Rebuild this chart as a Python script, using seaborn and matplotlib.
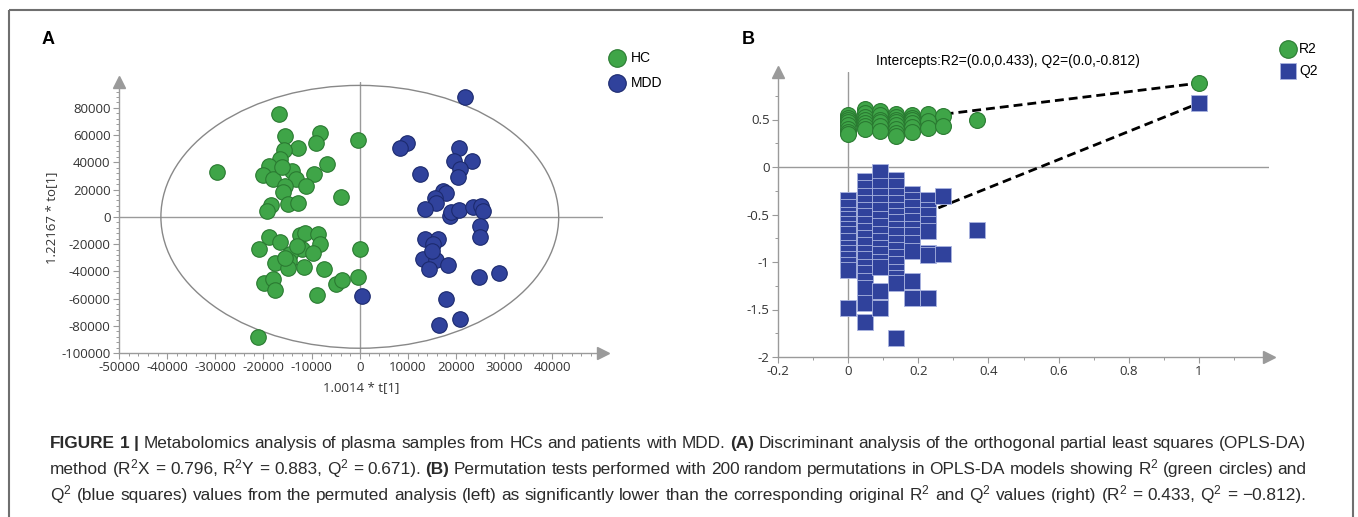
import matplotlib
matplotlib.use("Agg")
import numpy as np
import pandas as pd
import matplotlib.pyplot as plt
import seaborn as sns
from matplotlib.ticker import MultipleLocator, FixedLocator, FuncFormatter
from matplotlib.patches import Ellipse, Rectangle

# ---------------- data: panel A (OPLS-DA scores) ----------------
hc_t = [-16800, -8300, -9100, -15600, -12900, -15800, -300, -16600, -18900, -6800,
        -14000, -20200, -18100, -9500, -29700, -13300, -15600, -11200, -16000, -3900,
        -18500, -19200, -14900, -12900, -16200,
        -18900, -16500, -21000, -12400, -11300, -8700, -8200, -12100, -9800, -14500,
        -17600, -14800, -15000, -11600, -7500, -19800, -18000, -17600, -8800, -5000,
        -3600, 100, -300, -21200, -15600, -13100]
hc_to = [75500, 61500, 54200, 59100, 50500, 49300, 56600, 42400, 37500, 38700,
         33300, 30600, 27700, 31400, 33100, 27700, 22800, 22800, 17900, 14700,
         8600, 4400, 9300, 10000, 36300,
         -14500, -18400, -23800, -13500, -11800, -12700, -19600, -23800, -26700, -27500,
         -33600, -32400, -37300, -36500, -38500, -48300, -45800, -53900, -57600, -49000,
         -46300, -23500, -43900, -88000, -29900, -21300]
mdd_t = [21900, 9800, 8300, 20600, 19500, 23200, 20900, 20400, 12600, 17300,
         17800, 15600, 15900, 13500, 18700, 19000, 20700, 23500, 25200, 25600,
         25000, 25000, 13500, 16200, 15200, 13100, 15800, 14400, 18300, 24800,
         28900, 17900, 16500, 20900, 500, 14900]
mdd_to = [88200, 54200, 50500, 50500, 40700, 41200, 35000, 28900, 31400, 19100,
          17200, 13700, 10500, 5600, 700, 3200, 4900, 7400, 8100, 4400,
          -6600, -14700, -16400, -16400, -20100, -31100, -31900, -38500, -35500, -43900,
          -40900, -60500, -79700, -75200, -58100, -25000]
groups = ["HC", "MDD"]
ellipse_semi_t = 41300
ellipse_semi_to = 96500

# ---------------- data: panel B (permutation test) ----------------
perm_sim = [0.0, 0.047, 0.092, 0.136, 0.183, 0.228, 0.271, 0.366]
r2_perm = [[0.55, 0.52, 0.50, 0.47, 0.44, 0.40, 0.37, 0.35],
           [0.61, 0.57, 0.53, 0.50, 0.46, 0.43, 0.40],
           [0.59, 0.55, 0.50, 0.47, 0.43, 0.38],
           [0.56, 0.53, 0.50, 0.47, 0.44, 0.40, 0.36, 0.33],
           [0.55, 0.52, 0.49, 0.46, 0.42, 0.37],
           [0.56, 0.48, 0.41],
           [0.54, 0.43],
           [0.49]]
q2_perm = [[-0.35, -0.42, -0.50, -0.55, -0.60, -0.65, -0.70, -0.78, -0.85, -0.90, -0.97, -1.03, -1.08, -1.48],
           [-0.15, -0.22, -0.30, -0.38, -0.45, -0.52, -0.60, -0.67, -0.75, -0.82, -0.90, -0.97, -1.05, -1.12, -1.20, -1.27, -1.43, -1.63],
           [-0.05, -0.20, -0.30, -0.38, -0.45, -0.55, -0.62, -0.70, -0.78, -0.85, -0.92, -1.00, -1.05, -1.30, -1.48],
           [-0.14, -0.20, -0.30, -0.38, -0.45, -0.52, -0.58, -0.65, -0.72, -0.80, -0.87, -0.95, -1.02, -1.10, -1.17, -1.22, -1.80],
           [-0.28, -0.35, -0.42, -0.50, -0.57, -0.65, -0.72, -0.80, -0.88, -1.20, -1.38],
           [-0.35, -0.45, -0.50, -0.60, -0.67, -0.90, -0.93, -1.38],
           [-0.30, -0.92],
           [-0.66]]
orig_sim = 1.0
orig_r2 = 0.883
orig_q2 = 0.671
r2_intercept = 0.433
q2_intercept = -0.812

a_xticks = [-50000, -40000, -30000, -20000, -10000, 0, 10000, 20000, 30000, 40000]
a_yticks = [-100000, -80000, -60000, -40000, -20000, 0, 20000, 40000, 60000, 80000]
b_xticks = [-0.2, 0, 0.2, 0.4, 0.6, 0.8, 1]
b_yticks = [-2, -1.5, -1, -0.5, 0, 0.5]

# ---------------- style ----------------
sns.set_theme(style="white")
plt.rcParams["font.family"] = ["Open Sans", "DejaVu Sans"]
plt.rcParams["axes.unicode_minus"] = False
plt.rcParams["mathtext.fontset"] = "custom"
plt.rcParams["mathtext.rm"] = "Liberation Sans"
plt.rcParams["mathtext.it"] = "Liberation Sans:italic"
plt.rcParams["mathtext.bf"] = "Liberation Sans:bold"
plt.rcParams["mathtext.default"] = "regular"

GREEN = "#3fa548"
GREEN_EDGE = "#2a7a31"
BLUE = "#30429c"
BLUE_EDGE = "#1c2a6e"
SQ_EDGE = "#a9b4e0"
AXC = "#9a9a9a"
TXT = "#333333"

W, H = 1358, 517
fig = plt.figure(figsize=(W / 100, H / 100), dpi=100)

# overlay axes in pixel coordinates
ov = fig.add_axes([0, 0, 1, 1])
ov.set_xlim(0, W)
ov.set_ylim(H, 0)
ov.axis("off")
ov.patch.set_visible(False)


def px_axes(l, t, r, b):
    return fig.add_axes([l / W, (H - b) / H, (r - l) / W, (b - t) / H])


def style_axes(ax):
    ax.patch.set_visible(False)
    for s in ["top", "right"]:
        ax.spines[s].set_visible(False)
    for s in ["left", "bottom"]:
        ax.spines[s].set_color(AXC)
        ax.spines[s].set_linewidth(1.0)
    ax.tick_params(which="major", direction="out", length=4, width=0.8, color=AXC,
                   labelsize=9.5, labelcolor=TXT, pad=2, left=True, bottom=True)
    ax.tick_params(which="minor", direction="out", length=2.5, width=0.7, color=AXC,
                   left=True, bottom=True)
    ax.plot(1, 0, ">", transform=ax.transAxes, clip_on=False, color=AXC, ms=8, zorder=5)
    ax.plot(0, 1, "^", transform=ax.transAxes, clip_on=False, color=AXC, ms=8, zorder=5)
    ax.grid(False)


# ---------------- panel A ----------------
axA = px_axes(119, 82, 603, 353)
style_axes(axA)
axA.set_xlim(-50000, 50500)
axA.set_ylim(-100000, 99000)
axA.axhline(0, color=AXC, lw=1.0, zorder=1)
axA.axvline(0, color=AXC, lw=1.0, zorder=1)
axA.add_patch(Ellipse((0, 0), 2 * ellipse_semi_t, 2 * ellipse_semi_to, fill=False,
                      ec="#888888", lw=1.0, zorder=1))

dfA = pd.DataFrame({"t": hc_t + mdd_t, "to": hc_to + mdd_to,
                    "group": [groups[0]] * len(hc_t) + [groups[1]] * len(mdd_t)})
for g, c, e in [("HC", GREEN, GREEN_EDGE), ("MDD", BLUE, BLUE_EDGE)]:
    sns.scatterplot(data=dfA[dfA.group == g], x="t", y="to", color=c, edgecolor=e,
                    linewidth=0.8, s=125, legend=False, ax=axA, zorder=3)

axA.xaxis.set_major_locator(FixedLocator(a_xticks))
axA.yaxis.set_major_locator(FixedLocator(a_yticks))
axA.xaxis.set_minor_locator(MultipleLocator(2000))
axA.yaxis.set_minor_locator(MultipleLocator(4000))
axA.xaxis.set_major_formatter(FuncFormatter(lambda v, p: f"{v:.0f}"))
axA.yaxis.set_major_formatter(FuncFormatter(lambda v, p: f"{v:.0f}"))
axA.set_xlabel("1.0014 * t[1]", fontsize=9.5, color=TXT)
axA.set_ylabel("1.22167 * to[1]", fontsize=9.5, color=TXT)
axA.xaxis.set_label_coords(0.5, -0.105)
axA.yaxis.set_label_coords(-0.125, 0.5)

# ---------------- panel B ----------------
axB = px_axes(778, 72, 1269, 357)
style_axes(axB)
axB.set_xlim(-0.2, 1.2)
axB.set_ylim(-2, 1.0)
axB.axhline(0, color=AXC, lw=1.0, zorder=1)
axB.axvline(0, color=AXC, lw=1.0, zorder=1)
axB.plot([0, orig_sim], [r2_intercept, orig_r2], color="black", lw=2.0,
         dashes=(3.2, 1.8), zorder=2)
axB.plot([0, orig_sim], [q2_intercept, orig_q2], color="black", lw=2.0,
         dashes=(3.2, 1.8), zorder=2)

rows = []
for xs, ys in zip(perm_sim, r2_perm):
    rows += [(xs, y, "R2") for y in ys]
rows.append((orig_sim, orig_r2, "R2"))
for xs, ys in zip(perm_sim, q2_perm):
    rows += [(xs, y, "Q2") for y in ys]
rows.append((orig_sim, orig_q2, "Q2"))
dfB = pd.DataFrame(rows, columns=["sim", "val", "stat"])
sns.scatterplot(data=dfB[dfB.stat == "Q2"], x="sim", y="val", marker="s", color=BLUE,
                edgecolor=SQ_EDGE, linewidth=0.6, s=120, legend=False, ax=axB, zorder=3)
sns.scatterplot(data=dfB[dfB.stat == "R2"], x="sim", y="val", marker="o", color=GREEN,
                edgecolor=GREEN_EDGE, linewidth=0.8, s=130, legend=False, ax=axB, zorder=4)

axB.xaxis.set_major_locator(FixedLocator(b_xticks))
axB.yaxis.set_major_locator(FixedLocator(b_yticks))
axB.xaxis.set_minor_locator(MultipleLocator(0.1))
axB.yaxis.set_minor_locator(MultipleLocator(0.25))
fmt = FuncFormatter(lambda v, p: ("0" if abs(v) < 1e-9 else f"{v:g}"))
axB.xaxis.set_major_formatter(fmt)
axB.yaxis.set_major_formatter(fmt)
axB.set_xlabel("")
axB.set_ylabel("")

# ---------------- overlay: frame, labels, legends, caption ----------------
ov.add_patch(Rectangle((8.5, 9.5), 1344, 600, fill=False, ec="#6f6f6f", lw=1.5))
ov.text(48, 40, "A", fontsize=13, fontweight="bold", family="Liberation Sans",
        ha="center", va="center", color="black")
ov.text(748, 40, "B", fontsize=13, fontweight="bold", family="Liberation Sans",
        ha="center", va="center", color="black")
ov.text(1008, 61, "Intercepts:R2=(0.0,0.433), Q2=(0.0,-0.812)", fontsize=10,
        family="Liberation Sans", ha="center", va="center", color="black")

ov.scatter([617], [58], s=160, color=GREEN, edgecolor=GREEN_EDGE, linewidth=0.8)
ov.scatter([617], [83], s=160, color=BLUE, edgecolor=BLUE_EDGE, linewidth=0.8)
ov.text(631, 58, "HC", fontsize=10, family="Liberation Sans", va="center", color="black")
ov.text(631, 83, "MDD", fontsize=10, family="Liberation Sans", va="center", color="black")
ov.scatter([1288], [49], s=160, color=GREEN, edgecolor=GREEN_EDGE, linewidth=0.8)
ov.scatter([1288], [71], s=130, marker="s", color=BLUE, edgecolor=SQ_EDGE, linewidth=0.6)
ov.text(1299, 49, "R2", fontsize=10, family="Liberation Sans", va="center", color="black")
ov.text(1299, 71, "Q2", fontsize=10, family="Liberation Sans", va="center", color="black")

caption = [
    [("FIGURE 1 |", True),
     ("Metabolomics analysis of plasma samples from HCs and patients with MDD.", False),
     ("(A)", True),
     ("Discriminant analysis of the orthogonal partial least squares (OPLS-DA)", False)],
    [("method (R$^2$X = 0.796, R$^2$Y = 0.883, Q$^2$ = 0.671).", False),
     ("(B)", True),
     ("Permutation tests performed with 200 random permutations in OPLS-DA models showing R$^2$ (green circles) and", False)],
    [("Q$^2$ (blue squares) values from the permuted analysis (left) as significantly lower than the "
      "corresponding original R$^2$ and Q$^2$ values (right) (R$^2$ = 0.433, Q$^2$ = \u22120.812).", False)],
]
baselines = [448, 474, 500]
renderer = fig.canvas.get_renderer()
for line, yb in zip(caption, baselines):
    words = []
    for seg, bold in line:
        words += [(w, bold) for w in seg.split(" ")]
    arts = [ov.text(0, yb, w, fontsize=12.4, family="Liberation Sans",
                    fontweight="bold" if b else "normal", color="#2b2b2b",
                    ha="left", va="baseline") for w, b in words]
    widths = [a.get_window_extent(renderer).width for a in arts]
    gap = (1306 - 50 - sum(widths)) / (len(arts) - 1)
    x = 50
    for a, wdt in zip(arts, widths):
        a.set_x(x)
        x += wdt + gap

fig.savefig("out.png", dpi=100)
